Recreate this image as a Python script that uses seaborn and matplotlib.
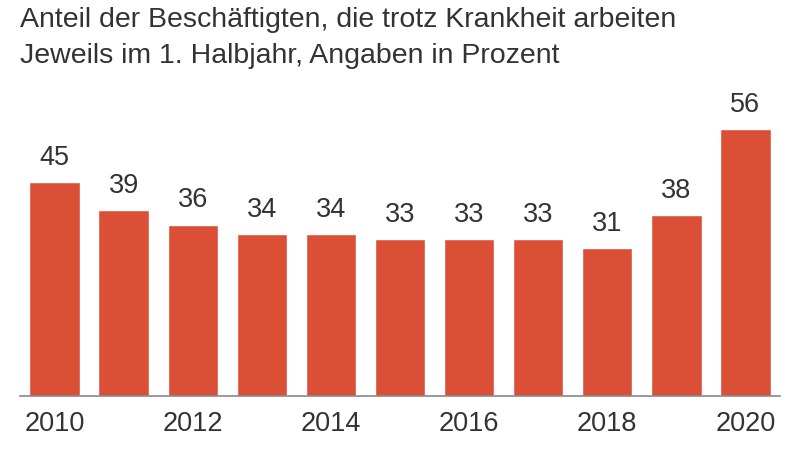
import matplotlib
matplotlib.use("Agg")
import matplotlib.pyplot as plt
import seaborn as sns
import pandas as pd

# Werte
years = ["2010", "2011", "2012", "2013", "2014", "2015", "2016", "2017", "2018", "2019", "2020"]
shares = [45, 39, 36, 34, 34, 33, 33, 33, 31, 38, 56]
tick_years = ["2010", "2012", "2014", "2016", "2018", "2020"]

title_lines = ["Anteil der Beschäftigten, die trotz Krankheit arbeiten",
               "Jeweils im 1. Halbjahr, Angaben in Prozent"]

sns.set_theme(style="white")
plt.rcParams['font.family'] = ['Liberation Sans', 'DejaVu Sans']

df = pd.DataFrame({"Jahr": years, "Anteil": shares})

fig = plt.figure(figsize=(8, 4.52), dpi=100)
ax = fig.add_axes([0.025, 0.1215, 0.95, 0.632])

sns.barplot(data=df, x="Jahr", y="Anteil", color="#dc4f37", saturation=1,
            width=0.73, ax=ax)

for i, v in enumerate(shares):
    ax.text(i, v + 5.3, str(v), ha="center", va="center",
            fontsize=19.5, color="#333333")

ax.set_xlim(-0.5, len(years) - 0.5)
ax.set_ylim(0, 60)
ax.set_yticks([])
ax.set_xlabel("")
ax.set_ylabel("")
ax.set_xticks([years.index(y) for y in tick_years])
ax.set_xticklabels(tick_years, fontsize=19.5, color="#333333")
ax.tick_params(axis="x", length=0, pad=10)

for s in ["top", "right", "left"]:
    ax.spines[s].set_visible(False)
ax.spines["bottom"].set_color("#888888")
ax.spines["bottom"].set_linewidth(1.2)

fig.text(0.025, 0.955, title_lines[0], fontsize=20.5, color="#333333", va="center")
fig.text(0.025, 0.877, title_lines[1], fontsize=20.5, color="#333333", va="center")

fig.savefig("out.png", dpi=100)
